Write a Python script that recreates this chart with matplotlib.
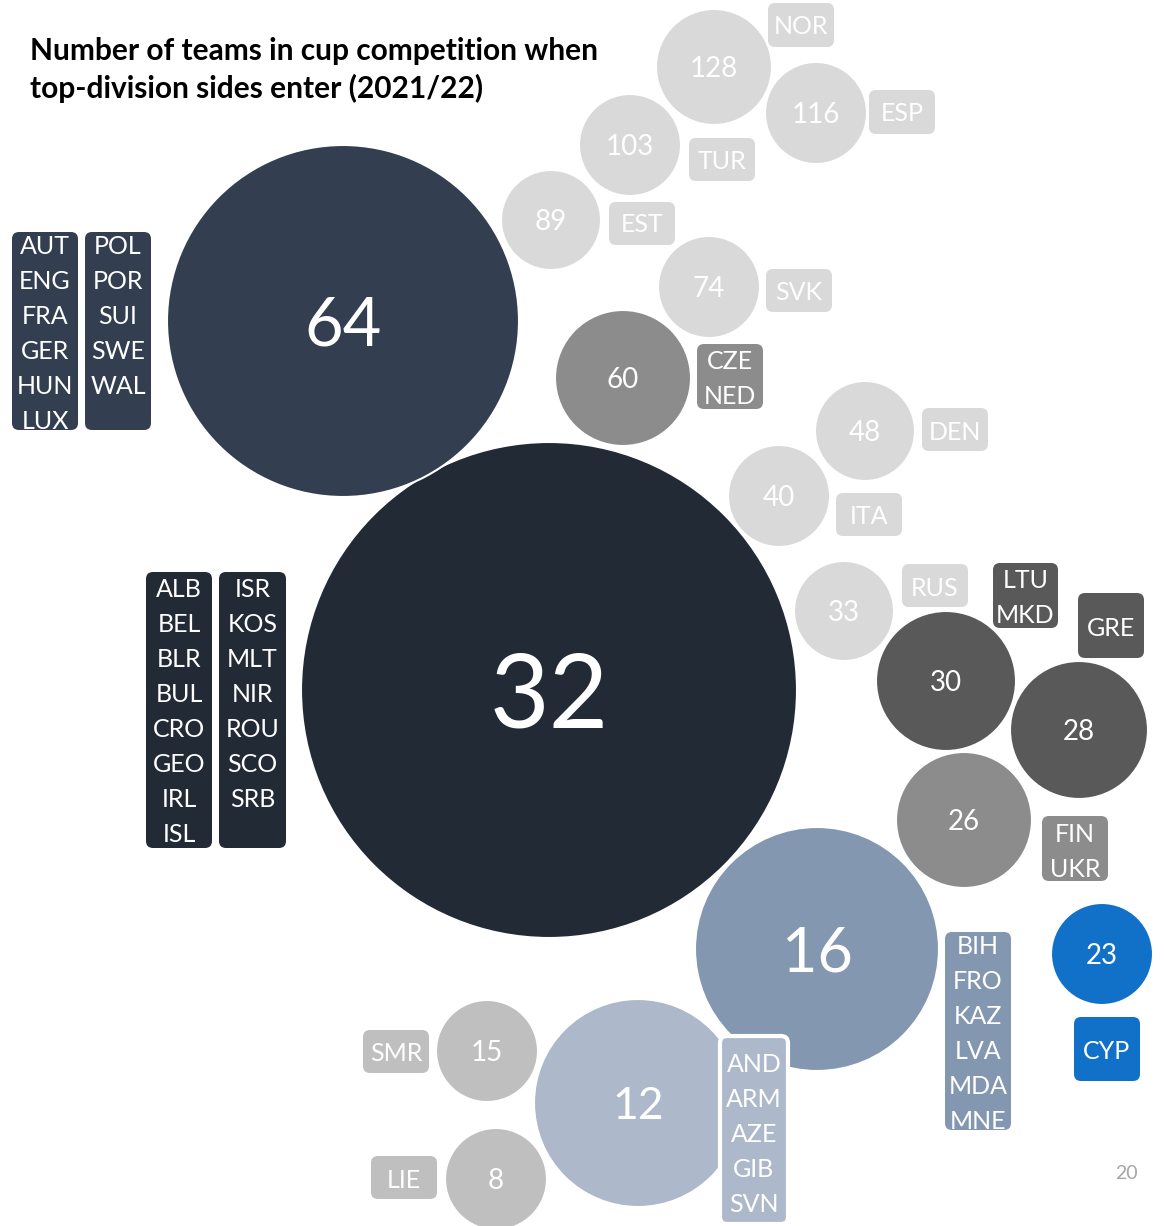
import matplotlib
matplotlib.use("Agg")
import matplotlib.pyplot as plt
from matplotlib.patches import Circle, FancyBboxPatch

plt.rcParams['font.family'] = ['Lato', 'DejaVu Sans']

# ---------------- data ----------------
title_lines = ["Number of teams in cup competition when", "top-division sides enter (2021/22)"]
bubble_values = [128, 116, 103, 89, 74, 64, 60, 48, 40, 33, 32, 30, 28, 26, 23, 16, 15, 12, 8]
countries_128 = ["NOR"]
countries_116 = ["ESP"]
countries_103 = ["TUR"]
countries_89 = ["EST"]
countries_74 = ["SVK"]
countries_64 = ["AUT", "ENG", "FRA", "GER", "HUN", "LUX", "POL", "POR", "SUI", "SWE", "WAL"]
countries_60 = ["CZE", "NED"]
countries_48 = ["DEN"]
countries_40 = ["ITA"]
countries_33 = ["RUS"]
countries_32 = ["ALB", "BEL", "BLR", "BUL", "CRO", "GEO", "IRL", "ISL",
                "ISR", "KOS", "MLT", "NIR", "ROU", "SCO", "SRB"]
countries_30 = ["LTU", "MKD"]
countries_28 = ["GRE"]
countries_26 = ["FIN", "UKR"]
countries_23 = ["CYP"]
countries_16 = ["BIH", "FRO", "KAZ", "LVA", "MDA", "MNE"]
countries_15 = ["SMR"]
countries_12 = ["AND", "ARM", "AZE", "GIB", "SVN"]
countries_8 = ["LIE"]
page_number = "20"

# ---------------- styles ----------------
LG, MG, G, DG = "#d9d9d9", "#bfbfbf", "#8c8c8c", "#595959"
C64, C32, C16, C12, C23 = "#333f50", "#222a35", "#8497b0", "#adb9ca", "#1170c8"

# layout: value -> (cx, cy, radius, colour, number fontsize)
bubble_layout = {
    128: (714, 67, 58, LG, 20), 116: (816, 113, 51, LG, 20), 103: (630, 145, 51, LG, 20),
    89: (551, 220, 50, LG, 20), 74: (709, 287, 51, LG, 20), 64: (343, 321, 176, C64, 48),
    60: (623, 378, 68, G, 20), 48: (865, 431, 50, LG, 20), 40: (779, 496, 51, LG, 20),
    33: (844, 611, 50, LG, 20), 32: (549, 690, 248, C32, 74), 30: (946, 681, 70, DG, 20),
    28: (1079, 730, 69, DG, 20), 26: (964, 820, 68, G, 20), 23: (1102, 954, 51, C23, 20),
    16: (817, 949, 122, C16, 44), 15: (487, 1051, 51, MG, 20), 12: (638, 1103, 104, C12, 32),
    8: (496, 1179, 51, MG, 20),
}

# label boxes: (country list, x0, y0, x1, y1, first-line y, colour, edge)
label_boxes = [
    (countries_128, 768, 3, 834, 47, 25, LG, None),
    (countries_116, 869, 90, 935, 134, 112, LG, None),
    (countries_103, 689, 138, 755, 181, 160, LG, None),
    (countries_89, 609, 202, 675, 245, 223, LG, None),
    (countries_74, 766, 269, 832, 312, 291, LG, None),
    (countries_64[:6], 12, 232, 78, 430, 245, C64, None),
    (countries_64[6:], 85, 232, 151, 430, 245, C64, None),
    (countries_60, 697, 344, 763, 409, 360, G, None),
    (countries_48, 922, 408, 988, 451, 431, LG, None),
    (countries_40, 836, 493, 902, 536, 515, LG, None),
    (countries_33, 902, 564, 968, 607, 587, LG, None),
    (countries_32[:8], 146, 572, 212, 848, 588, C32, None),
    (countries_32[8:], 219, 572, 286, 848, 588, C32, None),
    (countries_30, 993, 563, 1058, 628, 579, DG, None),
    (countries_28, 1078, 593, 1144, 658, 627, DG, None),
    (countries_26, 1042, 816, 1108, 881, 833, G, None),
    (countries_16, 945, 932, 1011, 1130, 945, C16, None),
    (countries_23, 1074, 1017, 1140, 1081, 1050, C23, None),
    (countries_12, 720, 1036, 788, 1224, 1063, C12, "white"),
    (countries_15, 363, 1030, 429, 1073, 1052, MG, None),
    (countries_8, 371, 1156, 437, 1199, 1179, MG, None),
]

W, H = 1165, 1226
PX = 100 / 72  # pixels per point
CAP = 0.72     # cap height / em


def centred_text(x, y, s, fs, **kw):
    """Place text so its capitals are vertically centred on y."""
    ax.text(x, y + CAP * fs * PX / 2, s, fontsize=fs, ha="center", va="baseline", **kw)


fig = plt.figure(figsize=(W / 100, H / 100), dpi=100)
ax = fig.add_axes([0, 0, 1, 1])
ax.set_xlim(0, W)
ax.set_ylim(H, 0)
ax.set_aspect("equal")
ax.axis("off")

for v in sorted(bubble_values, key=lambda k: -bubble_layout[k][2]):
    cx, cy, r, col, fs = bubble_layout[v]
    ax.add_patch(Circle((cx, cy), r, facecolor=col, edgecolor="white", lw=1.5, zorder=2))
    centred_text(cx, cy, str(v), fs, color="white", zorder=5)

for names, x0, y0, x1, y1, ly, col, edge in label_boxes:
    ax.add_patch(FancyBboxPatch((x0, y0), x1 - x0, y1 - y0,
                                boxstyle="round,pad=0,rounding_size=7",
                                facecolor=col, edgecolor=edge if edge else col,
                                lw=3 if edge else 0, zorder=6))
    cxl = (x0 + x1) / 2
    for i, nm in enumerate(names):
        centred_text(cxl, ly + 35 * i, nm, 18, color="white", zorder=7)

for i, line in enumerate(title_lines):
    ax.text(30, 49 + 38 * i + 0.36 * 21.5 * PX, line, fontsize=21.5, fontweight="bold",
            color="black", ha="left", va="baseline")
centred_text(1126, 1172, page_number, 14, color="#a6a6a6")

fig.savefig("out.png", dpi=100)
